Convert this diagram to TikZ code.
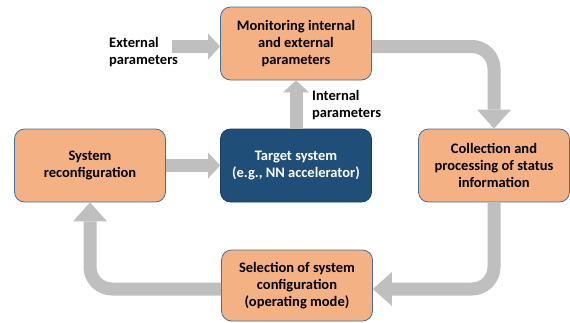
\documentclass[tikz,border=0pt]{standalone}
\usepackage{fontspec}
\setmainfont{Carlito}
\usepackage{tikz}
\usetikzlibrary{arrows.meta,calc,positioning}
\definecolor{boxorange}{HTML}{F4B183}
\definecolor{boxblue}{HTML}{1F4E79}
\definecolor{boxedge}{HTML}{41719C}
\definecolor{flowgray}{HTML}{BFBFBF}

\begin{document}
\begin{tikzpicture}[x=1pt,y=-1pt,
    box/.style={draw=boxedge, line width=0.8pt, fill=boxorange, rounded corners=10pt,
      minimum width=151pt, minimum height=73pt, inner sep=0pt, align=center,
      font=\bfseries\fontsize{14.5}{17}\selectfont},
    lbl/.style={inner sep=0pt, align=left, font=\bfseries\fontsize{14.5}{17}\selectfont},
    flow/.style={draw=flowgray, line width=13pt,
      -{Triangle[width=26pt,length=12pt,line width=0pt]}},
    bigflow/.style={draw=flowgray, line width=13pt, rounded corners=22pt,
      -{Triangle[width=34pt,length=19pt,line width=0pt]}}]
        \useasboundingbox (0,0) rectangle (570,322);
        % Boxes
        \node[box] (mon) at (296,43.5) {Monitoring internal\\and external\\parameters};
        \node[box, draw=boxblue!80!black, fill=boxblue, text=white] (tgt) at (296,165.5) {Target system\\(e.g., NN accelerator)};
        \node[box] (rec) at (90,165.5) {System\\reconfiguration};
        \node[box] (col) at (494,165.5) {Collection and\\processing of status\\information};
        \node[box, minimum height=71pt] (sel) at (297,285.5) {Selection of system\\configuration\\(operating mode)};
        % Labels
        \node[lbl, anchor=west] (extlbl) at (109,52.5) {External\\parameters};
        \node[lbl, anchor=west] (intlbl) at (312,105) {Internal\\parameters};
        \coordinate (extin) at (172,46.5);
        % Loop arrows
        \draw[flow] (extin) -- ([yshift=-3pt]mon.west);
        \draw[flow] (tgt.north) -- (mon.south);
        \draw[flow] (rec.east) -- (tgt.west);
        \draw[bigflow] ([yshift=-3pt]mon.east) -| (col.north);
        \draw[bigflow] (col.south) |- ([yshift=-3.5pt]sel.east);
        \draw[bigflow] ([yshift=-3.5pt]sel.west) -| (rec.south);
      \end{tikzpicture}
\end{document}
